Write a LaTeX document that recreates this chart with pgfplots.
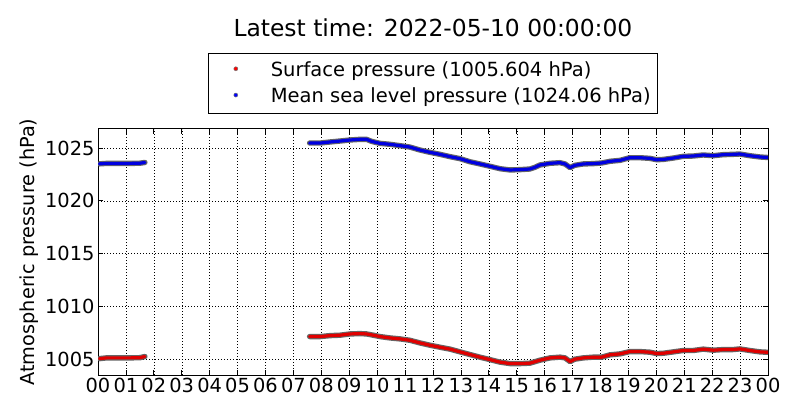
\documentclass[border=0pt]{standalone}
\usepackage{fontspec}
\setmainfont{DejaVu Sans}
\usepackage{pgfplots}
\usepackage{pgfplotstable}
\pgfplotsset{compat=1.18}

\pgfplotstableread{
h p
0.05 1005.05
0.30 1005.12
0.70 1005.12
1.10 1005.12
1.50 1005.14
1.68 1005.25
nan nan
7.58 1007.14
7.96 1007.14
8.31 1007.23
8.67 1007.27
9.03 1007.39
9.38 1007.42
9.62 1007.39
9.86 1007.27
10.10 1007.14
10.46 1007.01
10.82 1006.92
11.17 1006.79
11.53 1006.54
11.89 1006.32
12.25 1006.13
12.61 1005.95
12.97 1005.69
13.32 1005.44
13.68 1005.19
14.04 1004.96
14.40 1004.72
14.76 1004.58
15.11 1004.58
15.47 1004.62
15.83 1004.90
16.19 1005.12
16.55 1005.19
16.73 1005.12
16.91 1004.77
17.08 1005.00
17.38 1005.12
17.74 1005.19
18.04 1005.19
18.34 1005.41
18.70 1005.50
19.05 1005.72
19.41 1005.72
19.77 1005.66
20.01 1005.53
20.25 1005.56
20.61 1005.69
20.96 1005.82
21.32 1005.82
21.68 1005.95
22.04 1005.85
22.40 1005.91
22.75 1005.91
22.99 1005.97
23.35 1005.82
23.71 1005.69
24.00 1005.65
}\redtab

\pgfplotstableread{
h p
0.05 1023.50
0.30 1023.54
0.70 1023.54
1.10 1023.54
1.50 1023.56
1.68 1023.63
nan nan
7.58 1025.47
7.96 1025.47
8.31 1025.57
8.67 1025.66
9.03 1025.76
9.38 1025.82
9.62 1025.82
9.80 1025.63
10.10 1025.44
10.46 1025.35
10.82 1025.22
11.17 1025.09
11.53 1024.81
11.89 1024.59
12.25 1024.40
12.61 1024.18
12.97 1023.99
13.32 1023.70
13.68 1023.49
14.04 1023.27
14.40 1023.04
14.76 1022.92
15.11 1022.95
15.47 1023.01
15.65 1023.17
15.83 1023.39
16.19 1023.55
16.55 1023.61
16.73 1023.49
16.91 1023.14
17.08 1023.36
17.38 1023.49
17.74 1023.52
18.04 1023.58
18.34 1023.74
18.70 1023.83
19.05 1024.08
19.41 1024.08
19.77 1024.02
20.01 1023.89
20.25 1023.92
20.61 1024.05
20.96 1024.21
21.32 1024.24
21.68 1024.34
22.04 1024.27
22.40 1024.37
22.75 1024.40
22.99 1024.43
23.35 1024.27
23.71 1024.15
24.00 1024.10
}\bluetab

\begin{document}
\begin{tikzpicture}
\path[use as bounding box] (0,0) rectangle (800bp,420bp);
\begin{axis}[
  at={(98bp,45bp)}, anchor=south west,
  scale only axis, width=670bp, height=246bp,
  xmin=0, xmax=24, ymin=1003.5, ymax=1026.8,
  xtick={0,1,...,24},
  xticklabels={00,01,02,03,04,05,06,07,08,09,10,11,12,13,14,15,16,17,18,19,20,21,22,23,00},
  ytick={1005,1010,1015,1020,1025},
  /pgf/number format/assume math mode=true,
  /pgf/number format/set thousands separator={},
  tick label style={font=\fontsize{19.4bp}{23bp}\selectfont},
  ylabel={Atmospheric pressure (hPa)},
  every axis y label/.style={at={(axis description cs:-0.103,0.5)}, rotate=90, anchor=center, font=\fontsize{19.3bp}{23bp}\selectfont},
  grid=major,
  major grid style={line width=0.5bp, black, dash pattern=on 1bp off 2bp},
  tick align=inside, major tick length=5bp,
  tick style={line width=0.8bp, black},
  axis line style={line width=1bp, black},
  title={Latest time: 2022-05-10 00:00:00},
  title style={at={(axis description cs:0.5,1.3537)}, anchor=base, font=\fontsize{23.4bp}{28bp}\selectfont},
  legend style={at={(axis description cs:0.5,1.3077)}, anchor=north, draw=black, line width=1bp,
    inner xsep=3.5bp, inner ysep=5.9bp, row sep=5bp,
    font=\fontsize{19.5bp}{23bp}\selectfont,
    nodes={inner xsep=3.5bp, inner ysep=2bp, text depth=0.25em}},
  legend cell align=left,
  legend image code/.code={\path (-23.5bp,0bp) (31bp,0bp); \draw[#1] plot coordinates {(0bp,1.6bp)};},
  unbounded coords=jump,
]
\addlegendimage{only marks, mark=*, mark size=2bp, mark options={draw=black!55, fill=red, line width=0.5bp}}
\addlegendentry{Surface pressure (1005.604 hPa)}
\addlegendimage{only marks, mark=*, mark size=2bp, mark options={draw=black!55, fill=blue, line width=0.5bp}}
\addlegendentry{Mean sea level pressure (1024.06 hPa)}

\addplot[forget plot, black!60, line width=5.4bp, line cap=round, line join=round] table[x=h, y=p] {\redtab};
\addplot[forget plot, red!88!black, line width=3.2bp, line cap=round, line join=round] table[x=h, y=p] {\redtab};
\addplot[forget plot, black!60, line width=5.4bp, line cap=round, line join=round] table[x=h, y=p] {\bluetab};
\addplot[forget plot, blue!88!black, line width=3.2bp, line cap=round, line join=round] table[x=h, y=p] {\bluetab};
\end{axis}
\end{tikzpicture}
\end{document}
